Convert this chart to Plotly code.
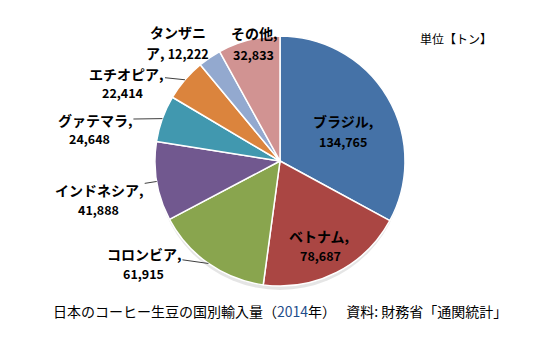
import math
import plotly.graph_objects as go

countries = ["ブラジル", "ベトナム", "コロンビア", "インドネシア", "グァテマラ", "エチオピア", "タンザニア", "その他"]
values = [134765, 78687, 61915, 41888, 24648, 22414, 12222, 32833]
colors = ["#4572A7", "#AA4643", "#89A54E", "#71588F", "#4198AF", "#DB843D", "#93A9CF", "#D19392"]

W, H = 560, 340
CX, CY, R = 280, 161, 125
FONT = "Noto Sans CJK JP"

fig = go.Figure(go.Pie(
    labels=countries, values=values, sort=False, direction="clockwise", rotation=0,
    marker=dict(colors=colors, line=dict(color="white", width=1.5)),
    textinfo="none", hoverinfo="label+value", showlegend=False,
    domain=dict(x=[(CX - R) / W, (CX + R) / W], y=[1 - (CY + R) / H, 1 - (CY - R) / H]),
))

total = sum(values)
cum = 0
mids = []
for v in values:
    mids.append((cum + v / 2) / total * 2 * math.pi)
    cum += v

# name offset from slice outer mid point (px), value offset from name (px), leader line
place = {
    "ブラジル": (-44, 24, 0, 20, False),
    "ベトナム": (-18, -36, 2, 19, False),
    "コロンビア": (-64, -9, -1, 19, True),
    "インドネシア": (-57, 9, -1, 19, True),
    "グァテマラ": (-67, 1, -6, 19, True),
    "エチオピア": (-58, -6, -4, 19, True),
    "タンザニア": (-32, -26, 0, 21, False),
    "その他": (6, -7, -1, 22, False),
}

annotations = []
for name, v, a in zip(countries, values, mids):
    dx, dy, ndx, ndy, arrow = place[name]
    px = CX + R * math.sin(a)
    py = CY - R * math.cos(a)
    num = f"{v:,}"
    if name == "タンザニア":
        line1 = "<b>タンザニ</b>"
        line2 = f"<b>ア, <span style='font-size:12.5px'>{num}</span></b>"
    else:
        line1 = f"<b>{name},</b>"
        line2 = f"<b><span style='font-size:12.5px'>{num}</span></b>"
    base = dict(x=px / W, y=1 - py / H, xref="paper", yref="paper",
                xanchor="center", yanchor="middle", borderpad=0,
                font=dict(family=FONT, size=14, color="black"))
    a1 = dict(base, text=line1)
    if arrow:
        a1.update(showarrow=True, arrowhead=0, arrowwidth=1, arrowcolor="#404040",
                  ax=dx, ay=dy, standoff=0, startstandoff=0)
    else:
        a1.update(showarrow=False, xshift=dx, yshift=-dy)
    a2 = dict(base, text=line2, showarrow=False, xshift=dx + ndx, yshift=-(dy + ndy))
    annotations += [a1, a2]

annotations.append(dict(
    x=456 / W, y=1 - 38 / H, xref="paper", yref="paper", showarrow=False,
    xanchor="center", yanchor="middle",
    text="単位【トン】", font=dict(family=FONT, size=12, color="black"),
))
annotations.append(dict(
    x=280 / W, y=1 - 311 / H, xref="paper", yref="paper", showarrow=False,
    xanchor="center", yanchor="middle",
    text="日本のコーヒー生豆の国別輸入量（<span style='color:#1F4E8C'>2014</span>年）　 資料: 財務省「通関統計」",
    font=dict(family=FONT, size=14, color="black"),
))

shapes = [dict(
    type="circle", xref="paper", yref="paper", layer="below",
    x0=(CX - R + 1) / W, x1=(CX + R - 1) / W,
    y0=1 - (CY + R + 4) / H, y1=1 - (CY - R + 4) / H,
    fillcolor="rgba(0,0,0,0.10)", line=dict(width=0),
)]

fig.update_layout(
    width=W, height=H, margin=dict(l=0, r=0, t=0, b=0),
    paper_bgcolor="white", plot_bgcolor="white",
    annotations=annotations, shapes=shapes,
)

fig.write_html("out.html")
